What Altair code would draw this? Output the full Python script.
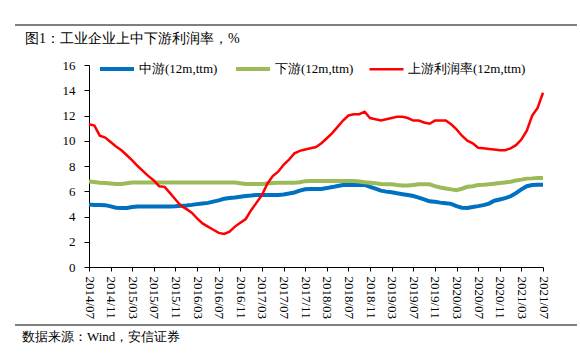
import altair as alt
import pandas as pd

# ---- data -------------------------------------------------------------
months = [f"{2014 + (6 + i) // 12}/{(6 + i) % 12 + 1:02d}" for i in range(85)]  # 2014/07 .. 2021/07
tick_labels = months[::4]

series_names = ["中游(12m,ttm)", "下游(12m,ttm)", "上游利润率(12m,ttm)"]
series_colors = ["#0070C0", "#9BBB59", "#FF0000"]
series_widths = [4, 4, 2.5]

mid = [4.95, 4.92, 4.92, 4.90, 4.80, 4.70, 4.67, 4.67, 4.75, 4.80,
       4.80, 4.80, 4.80, 4.80, 4.80, 4.80, 4.82, 4.85, 4.88, 4.92,
       4.98, 5.03, 5.08, 5.18, 5.28, 5.40, 5.47, 5.50, 5.57, 5.63,
       5.66, 5.70, 5.70, 5.70, 5.70, 5.70, 5.75, 5.82, 5.90, 6.05,
       6.15, 6.18, 6.18, 6.18, 6.25, 6.33, 6.42, 6.50, 6.50, 6.50,
       6.50, 6.50, 6.35, 6.20, 6.05, 5.97, 5.92, 5.84, 5.77, 5.70,
       5.62, 5.50, 5.35, 5.20, 5.16, 5.10, 5.05, 5.00, 4.82, 4.70,
       4.67, 4.75, 4.82, 4.90, 5.02, 5.25, 5.35, 5.45, 5.60, 5.85,
       6.15, 6.40, 6.50, 6.52, 6.52]

down = [6.78, 6.73, 6.68, 6.66, 6.62, 6.58, 6.58, 6.64, 6.70, 6.70,
        6.70, 6.70, 6.70, 6.70, 6.70, 6.70, 6.70, 6.70, 6.70, 6.70,
        6.70, 6.70, 6.70, 6.70, 6.70, 6.70, 6.70, 6.70, 6.64, 6.58,
        6.58, 6.58, 6.58, 6.62, 6.66, 6.68, 6.68, 6.68, 6.68, 6.72,
        6.80, 6.82, 6.82, 6.82, 6.82, 6.82, 6.82, 6.82, 6.82, 6.82,
        6.78, 6.72, 6.68, 6.64, 6.58, 6.55, 6.55, 6.50, 6.46, 6.45,
        6.50, 6.55, 6.55, 6.55, 6.40, 6.30, 6.22, 6.15, 6.08, 6.20,
        6.35, 6.40, 6.50, 6.52, 6.55, 6.60, 6.65, 6.70, 6.75, 6.85,
        6.92, 7.00, 7.02, 7.05, 7.05]

up = [11.30, 11.20, 10.40, 10.25, 9.90, 9.55, 9.25, 8.85, 8.45, 8.00,
      7.60, 7.20, 6.85, 6.40, 6.35, 5.85, 5.35, 4.85, 4.60, 4.30,
      3.85, 3.45, 3.20, 2.95, 2.70, 2.62, 2.80, 3.20, 3.50, 3.80,
      4.50, 5.10, 5.70, 6.60, 7.20, 7.55, 8.10, 8.50, 9.00, 9.20,
      9.30, 9.40, 9.50, 9.80, 10.20, 10.60, 11.10, 11.60, 12.00, 12.10,
      12.10, 12.30, 11.80, 11.70, 11.60, 11.70, 11.80, 11.90, 11.90, 11.80,
      11.60, 11.60, 11.45, 11.35, 11.60, 11.60, 11.60, 11.30, 10.90, 10.40,
      10.00, 9.80, 9.45, 9.40, 9.35, 9.30, 9.25, 9.25, 9.40, 9.65,
      10.10, 10.80, 12.00, 12.60, 13.80]

title_text = "图1：工业企业上中下游利润率，%"
source_text = "数据来源：Wind，安信证券"

# ---- table ------------------------------------------------------------
rows = []
for name, vals in zip(series_names, [mid, down, up]):
    for m, v in zip(months, vals):
        rows.append({"month": m, "value": v, "series": name})
df = pd.DataFrame(rows)

FONT = "Liberation Serif"

legend = alt.Legend(
    title=None, orient="none", legendX=9, legendY=-15, direction="horizontal",
    symbolType="stroke", symbolSize=1156, labelFont=FONT, labelFontSize=13,
    labelColor="black", columnPadding=10, labelOffset=3, padding=0,
)

lines = alt.Chart(df).mark_line().encode(
    x=alt.X("month:O", sort=months, title=None,
            scale=alt.Scale(type="point", padding=0),
            axis=alt.Axis(values=tick_labels, labelAngle=90, labelFont=FONT,
                          labelFontSize=13, labelColor="black", tickSize=4,
                          labelPadding=5, domainColor="black", tickColor="black",
                          grid=False, labelAlign="left", labelBaseline="middle")),
    y=alt.Y("value:Q", title=None,
            scale=alt.Scale(domain=[0, 16], nice=False, zero=True),
            axis=alt.Axis(values=list(range(0, 17, 2)), labelFont=FONT,
                          labelFontSize=13, labelColor="black", tickSize=5,
                          labelPadding=9, domainColor="black", tickColor="black",
                          grid=False)),
    color=alt.Color("series:N", sort=series_names,
                    scale=alt.Scale(domain=series_names, range=series_colors),
                    legend=legend),
    strokeWidth=alt.StrokeWidth("series:N", sort=series_names,
                                scale=alt.Scale(type="ordinal", domain=series_names,
                                                range=series_widths),
                                legend=legend),
)

title_df = pd.DataFrame({"t": [title_text]})
source_df = pd.DataFrame({"t": [source_text]})

title_mark = alt.Chart(title_df).mark_text(
    align="left", baseline="middle", font=FONT, fontSize=14, color="black"
).encode(text="t:N", x=alt.value(-64), y=alt.value(-26))

source_mark = alt.Chart(source_df).mark_text(
    align="left", baseline="middle", font=FONT, fontSize=13, color="black"
).encode(text="t:N", x=alt.value(-67), y=alt.value(272))

top_rule = alt.Chart(title_df).mark_rule(color="black", strokeWidth=1.2).encode(
    x=alt.value(-74), x2=alt.value(488), y=alt.value(-40))
bottom_rule = alt.Chart(source_df).mark_rule(color="black", strokeWidth=1.2).encode(
    x=alt.value(-74), x2=alt.value(488), y=alt.value(260))

chart = alt.layer(lines, title_mark, source_mark, top_rule, bottom_rule).properties(
    width=454, height=202,
    autosize=alt.AutoSizeParams(type="none"),
    padding={"left": 89, "top": 65, "right": 37, "bottom": 88},
    background="white",
).configure_view(stroke=None)

chart.save("out.html", embed_options={"renderer": "svg", "actions": False})
